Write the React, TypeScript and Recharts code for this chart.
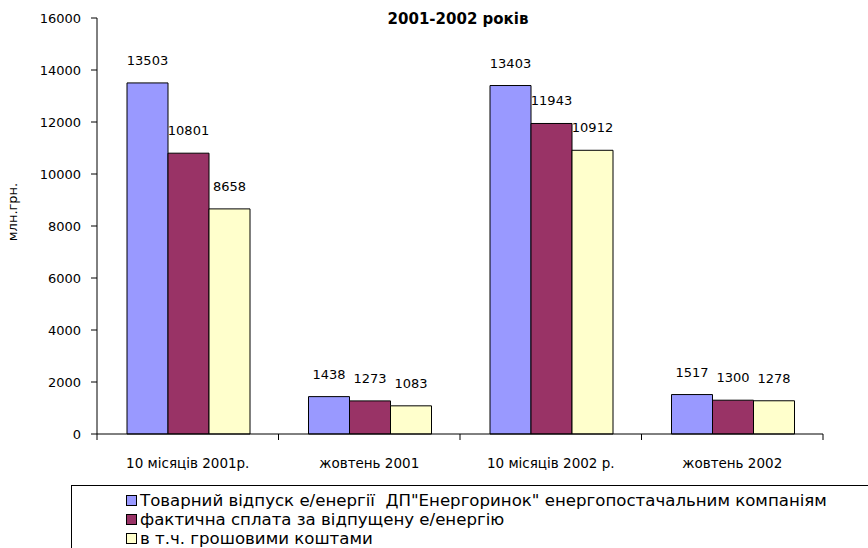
import React from "react";
import { BarChart, Bar, XAxis, YAxis, LabelList } from "recharts";

const categories = ["10 місяців 2001р.", "жовтень 2001", "10 місяців 2002 р.", "жовтень 2002"];
const supplied = [13503, 1438, 13403, 1517];
const paid = [10801, 1273, 11943, 1300];
const cash = [8658, 1083, 10912, 1278];
const seriesNames = [
  "Товарний відпуск е/енергії  ДП\"Енергоринок\" енергопостачальним компаніям",
  "фактична сплата за відпущену е/енергію",
  "в т.ч. грошовими коштами",
];
const seriesKeys = ["supplied", "paid", "cash"];
const seriesColors = ["#9999FF", "#993366", "#FFFFCC"];
const yTicks = [0, 2000, 4000, 6000, 8000, 10000, 12000, 14000, 16000];

const data = categories.map((name, i) => ({
  name,
  supplied: supplied[i],
  paid: paid[i],
  cash: cash[i],
}));

const W = 868;
const H = 548;
const margin = { top: 18, right: 45, bottom: 84, left: 0 };
const yAxisW = 97;
const band = (W - margin.left - margin.right - yAxisW) / categories.length;
const font = "'DejaVu Sans', sans-serif";

function CategoryTick(props: any) {
  const { x, y, payload, index } = props;
  return (
    <g>
      <line x1={x - band / 2} y1={y} x2={x - band / 2} y2={y + 6} stroke="#000" />
      {index === categories.length - 1 && (
        <line x1={x + band / 2} y1={y} x2={x + band / 2} y2={y + 6} stroke="#000" />
      )}
      <text x={x} y={y + 34} textAnchor="middle" fontSize={13.5} fontFamily={font} fill="#000">
        {payload.value}
      </text>
    </g>
  );
}

export default function App() {
  return (
    <div style={{ position: "absolute", left: 0, top: 0, width: W, height: H, overflow: "hidden", background: "#fff" }}>
      <BarChart width={W} height={H} data={data} margin={margin} barCategoryGap={30} barGap={0}>
        <XAxis
          dataKey="name"
          tickLine={false}
          tickSize={0}
          tickMargin={0}
          height={30}
          axisLine={{ stroke: "#000" }}
          tick={<CategoryTick />}
          interval={0}
        />
        <YAxis
          width={yAxisW}
          domain={[0, 16000]}
          ticks={yTicks}
          interval={0}
          tickSize={6}
          tickMargin={10}
          axisLine={{ stroke: "#000" }}
          tickLine={{ stroke: "#000" }}
          tick={{ fill: "#000", fontSize: 13, fontFamily: font }}
          label={{
            value: "млн.грн.",
            angle: -90,
            position: "insideLeft",
            offset: 12,
            dy: -14,
            style: { fill: "#000", fontSize: 13, fontFamily: font, textAnchor: "middle" },
          }}
        />
        {seriesKeys.map((k, i) => (
          <Bar key={k} dataKey={k} fill={seriesColors[i]} stroke="#000" strokeWidth={1} isAnimationActive={false}>
            <LabelList dataKey={k} position="top" offset={18} fill="#000" fontSize={13} fontFamily={font} />
          </Bar>
        ))}
      </BarChart>
      <div
        style={{
          position: "absolute",
          left: 0,
          top: 10,
          width: 916,
          textAlign: "center",
          fontFamily: font,
          fontWeight: "bold",
          fontSize: 15,
          color: "#000",
        }}
      >
        2001-2002 років
      </div>
      <div
        style={{
          position: "absolute",
          left: 71,
          top: 485,
          width: 900,
          height: 100,
          border: "1px solid #000",
          boxSizing: "border-box",
          paddingLeft: 54,
          paddingTop: 5,
          fontFamily: font,
          fontSize: 16.6,
          lineHeight: "19px",
          color: "#000",
        }}
      >
        {seriesNames.map((n, i) => (
          <div key={n} style={{ display: "flex", alignItems: "center", whiteSpace: "pre" }}>
            <span
              style={{
                display: "inline-block",
                width: 9,
                height: 9,
                border: "1px solid #000",
                background: seriesColors[i],
                marginRight: 3,
              }}
            />
            {n}
          </div>
        ))}
      </div>
    </div>
  );
}
